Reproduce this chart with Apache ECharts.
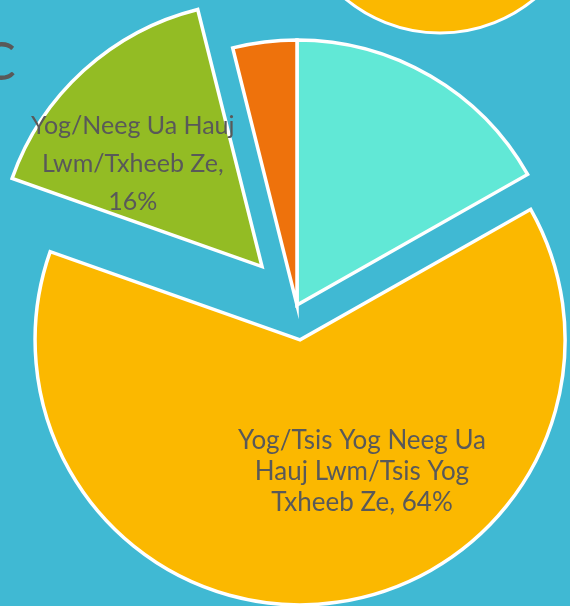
<!DOCTYPE html>
<html><head><meta charset="utf-8">
<script src="https://cdn.jsdelivr.net/npm/echarts@6/dist/echarts.min.js"></script>
<style>html,body{margin:0;padding:0;background:#40B9D3;}#c{width:570px;height:606px;}</style>
</head><body><div id="c"></div>
<script>
const categories = ["Tsis Yog/Neeg Ua Hauj Lwm/Txheeb Ze", "Yog/Tsis Yog Neeg Ua Hauj Lwm/Tsis Yog Txheeb Ze", "Yog/Neeg Ua Hauj Lwm/Txheeb Ze", "Tsis Paub"];
const values = [16.8, 63.6, 15.7, 3.9];
const percentLabels = ["17%", "64%", "16%", "4%"];
const labelLines = ["", "Yog/Tsis Yog Neeg Ua\nHauj Lwm/Tsis Yog\nTxheeb Ze", "Yog/Neeg Ua Hauj\nLwm/Txheeb Ze,", ""];
const colors = ["#61E8D6", "#FBB800", "#93BC24", "#EE720C"];

const chart = echarts.init(document.getElementById('c'), null, {renderer: 'canvas'});
const center = [297, 305];
const radius = 265;
const textColor = '#595959';
const font = 'Lato, "Open Sans", sans-serif';

function hiddenItem(i) {
  return {name: categories[i], value: values[i],
    itemStyle: {color: 'transparent', borderWidth: 0},
    label: {show: false}, emphasis: {disabled: true}};
}

const dataA = values.map((v, i) => {
  if (i === 2) return hiddenItem(i);
  return {name: categories[i], value: v, selected: i === 1,
    itemStyle: {color: colors[i]},
    label: i === 1 ? {show: true, position: 'inside', color: textColor, fontSize: 26, lineHeight: 31, fontFamily: font,
      formatter: labelLines[1].replace(/Txheeb Ze$/, 'Txheeb Ze, ' + percentLabels[1])} : {show: false}};
});
const dataB = values.map((v, i) => {
  if (i !== 2) return hiddenItem(i);
  return {name: categories[i], value: v, selected: true,
    itemStyle: {color: colors[i]},
    label: {show: true, position: 'inside', color: textColor, fontSize: 25, lineHeight: 38, fontFamily: font,
      formatter: labelLines[2] + '\n' + percentLabels[2]}};
});

const common = {
  type: 'pie', center: center, radius: [0, radius], startAngle: 90, clockwise: true,
  selectedMode: 'multiple', animation: false, silent: true, labelLine: {show: false},
  itemStyle: {borderColor: '#ffffff', borderWidth: 3.5, borderJoin: 'miter'},
  emphasis: {disabled: true}, avoidLabelOverlap: false
};

chart.setOption({
  backgroundColor: '#40B9D3',
  graphic: [
    {type: 'circle', shape: {cx: 440, cy: -115, r: 148}, style: {fill: '#FBB800', stroke: '#ffffff', lineWidth: 3}, z: 0},
    {type: 'text', left: -19, top: 37, style: {text: 'C', fill: '#595959', font: '52px ' + font}, z: 0}
  ],
  series: [
    Object.assign({}, common, {name: 'a', selectedOffset: 35, data: dataA,
      labelLayout: function (p) { return p.dataIndex === 1 ? {dx: 50, dy: -3} : {}; }}),
    Object.assign({}, common, {name: 'b', selectedOffset: 52, data: dataB,
      labelLayout: function (p) { return p.dataIndex === 2 ? {dx: -38, dy: -2} : {}; }})
  ]
});
</script></body></html>
